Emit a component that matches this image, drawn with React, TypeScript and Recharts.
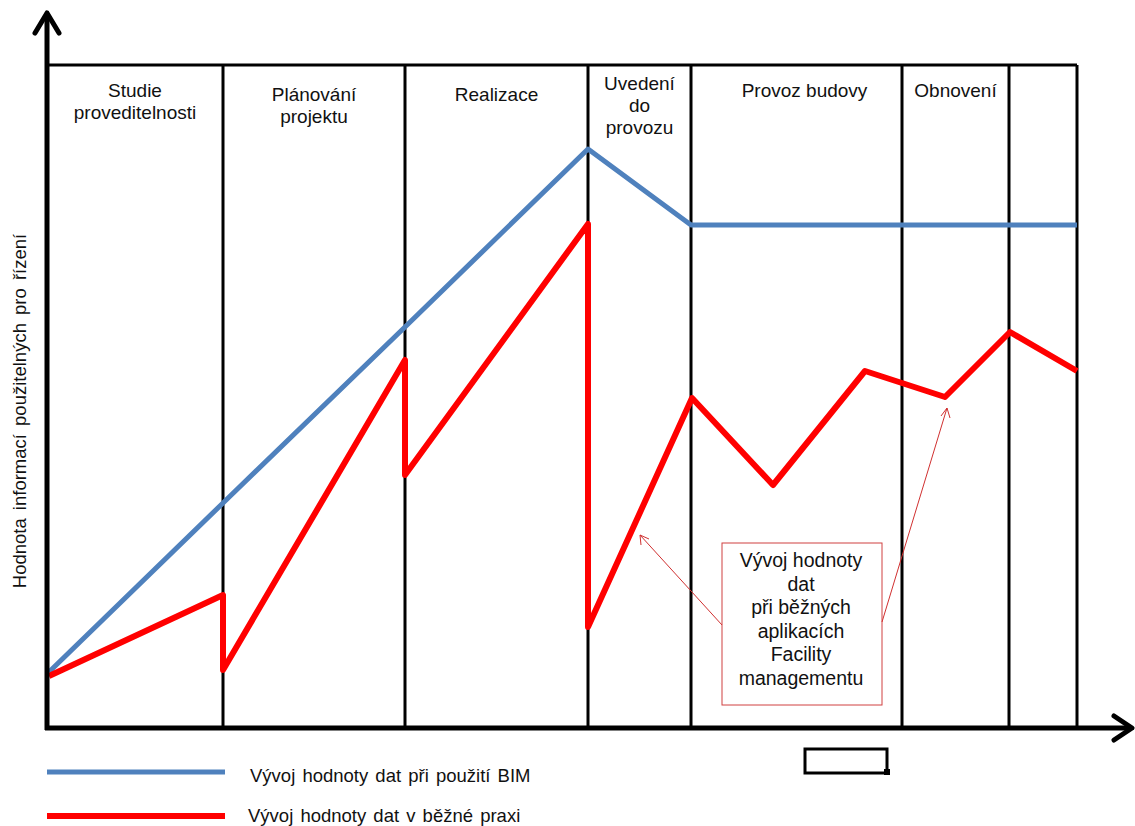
import { ComposedChart, Line, XAxis, YAxis, ReferenceLine, ReferenceArea } from 'recharts'

// phases of the building life cycle (x units along the time axis)
const phaseBounds = [0, 176, 358, 541, 644, 855, 962, 1030]
const phaseNames = [
  ['Studie', 'proveditelnosti'],
  ['Plánování', 'projektu'],
  ['Realizace'],
  ['Uvedení', 'do', 'provozu'],
  ['Provoz budovy'],
  ['Obnovení'],
  [],
]
const boxTop = 663

// value of data with BIM
const bimX = [2, 176, 358, 541, 644, 1030]
const bimY = [56, 225, 401, 579, 503, 503]

// value of data in common practice
const practiceX = [2, 176, 176, 358, 358, 541, 541, 645, 726, 818, 898, 963, 1030]
const practiceY = [52, 133, 58, 368, 253, 504, 101, 330, 243, 357, 331, 396, 357]

const bimLabel = 'Vývoj hodnoty dat při použití BIM'
const practiceLabel = 'Vývoj hodnoty dat v běžné praxi'
const yLabel = 'Hodnota informací použitelných pro řízení'
const noteLines = ['Vývoj hodnoty', 'dat', 'při běžných', 'aplikacích', 'Facility', 'managementu']

const labelDy = [32, 36, 36, 25, 32, 32, 0]
const labelDx = [0, 0, 0, 0, 8, 0, 0]
const FONT = '"Liberation Sans", Arial, sans-serif'
const BLUE = '#4f81bd'
const RED = '#ff0000'

const bimData = bimX.map((x, i) => ({ x, y: bimY[i] }))
const practiceData = practiceX.map((x, i) => ({ x, y: practiceY[i] }))

// eslint-disable-next-line @typescript-eslint/no-explicit-any
function PhaseLabel(props: any) {
  const { viewBox, lines, dy, dx } = props
  if (!viewBox || !lines.length) return null
  const cx = viewBox.x + viewBox.width / 2 + dx
  return (
    <text x={cx} y={viewBox.y + dy} textAnchor="middle" fontFamily={FONT} fontSize={19} fill="#111">
      {lines.map((l: string, i: number) => (
        <tspan key={i} x={cx} dy={i === 0 ? 0 : 22}>{l}</tspan>
      ))}
    </text>
  )
}

export default function App() {
  return (
    <div style={{ position: 'absolute', left: 0, top: 0, width: 1135, height: 826, background: '#fff' }}>
      <ComposedChart width={1135} height={826} margin={{ top: 65, right: 58, bottom: 98, left: 47 }}>
        <XAxis type="number" dataKey="x" domain={[0, 1030]} hide allowDuplicatedCategory />
        <YAxis type="number" dataKey="y" domain={[0, boxTop]} hide />
        {phaseNames.map((lines, i) => (
          <ReferenceArea
            key={'a' + i}
            x1={phaseBounds[i]}
            x2={phaseBounds[i + 1]}
            y1={0}
            y2={boxTop}
            fill="none"
            stroke="none"
            label={<PhaseLabel lines={lines} dy={labelDy[i]} dx={labelDx[i]} />}
          />
        ))}
        <ReferenceLine y={boxTop} stroke="#000" strokeWidth={3} />
        {phaseBounds.slice(1).map(b => (
          <ReferenceLine key={'b' + b} x={b} stroke="#000" strokeWidth={3} />
        ))}
        <Line data={bimData} dataKey="y" type="linear" stroke={BLUE} strokeWidth={5} strokeLinejoin="round" dot={false} isAnimationActive={false} />
        <Line data={practiceData} dataKey="y" type="linear" stroke={RED} strokeWidth={6} strokeLinejoin="round" dot={false} isAnimationActive={false} />
      </ComposedChart>
      <svg width={1135} height={826} style={{ position: 'absolute', left: 0, top: 0, pointerEvents: 'none' }}>
        {/* axes with arrows */}
        <line x1={47} y1={730} x2={47} y2={14} stroke="#000" strokeWidth={5} />
        <polyline points="35,33 47,13 59,33" fill="none" stroke="#000" strokeWidth={5} strokeLinecap="round" strokeLinejoin="round" />
        <line x1={45} y1={728} x2={1131} y2={728} stroke="#000" strokeWidth={5} />
        <polyline points="1114,716 1132,728 1114,740" fill="none" stroke="#000" strokeWidth={5} strokeLinecap="round" strokeLinejoin="round" />
        <text transform="translate(26,411) rotate(-90)" textAnchor="middle" fontFamily={FONT} fontSize={18.5} fill="#111" wordSpacing={3}>
          {yLabel}
        </text>
        {/* note box */}
        <rect x={722} y={543} width={160} height={162} fill="#fff" stroke="#d04040" strokeWidth={1} />
        <text x={801} y={567} textAnchor="middle" fontFamily={FONT} fontSize={19.5} fill="#111">
          {noteLines.map((l, i) => (
            <tspan key={i} x={801} dy={i === 0 ? 0 : 23.6}>{l}</tspan>
          ))}
        </text>
        <line x1={722} y1={625} x2={640} y2={535} stroke="#d03030" strokeWidth={1} />
        <polyline points="641,545 640,535 649,539" fill="none" stroke="#d03030" strokeWidth={1} />
        <line x1={882} y1={622} x2={947} y2={408} stroke="#d03030" strokeWidth={1} />
        <polyline points="941,416 947,408 950,418" fill="none" stroke="#d03030" strokeWidth={1} />
        {/* stray box */}
        <rect x={805} y={749} width={82} height={24} fill="none" stroke="#000" strokeWidth={3} />
        <rect x={884} y={769} width={6} height={6} fill="#000" />
        {/* legend */}
        <line x1={47} y1={772} x2={225} y2={772} stroke={BLUE} strokeWidth={5} />
        <text x={250} y={782} fontFamily={FONT} fontSize={18.5} fill="#111" wordSpacing={2}>{bimLabel}</text>
        <line x1={47} y1={816} x2={225} y2={816} stroke={RED} strokeWidth={6} />
        <text x={248} y={822} fontFamily={FONT} fontSize={18.5} fill="#111" wordSpacing={2}>{practiceLabel}</text>
      </svg>
    </div>
  )
}
